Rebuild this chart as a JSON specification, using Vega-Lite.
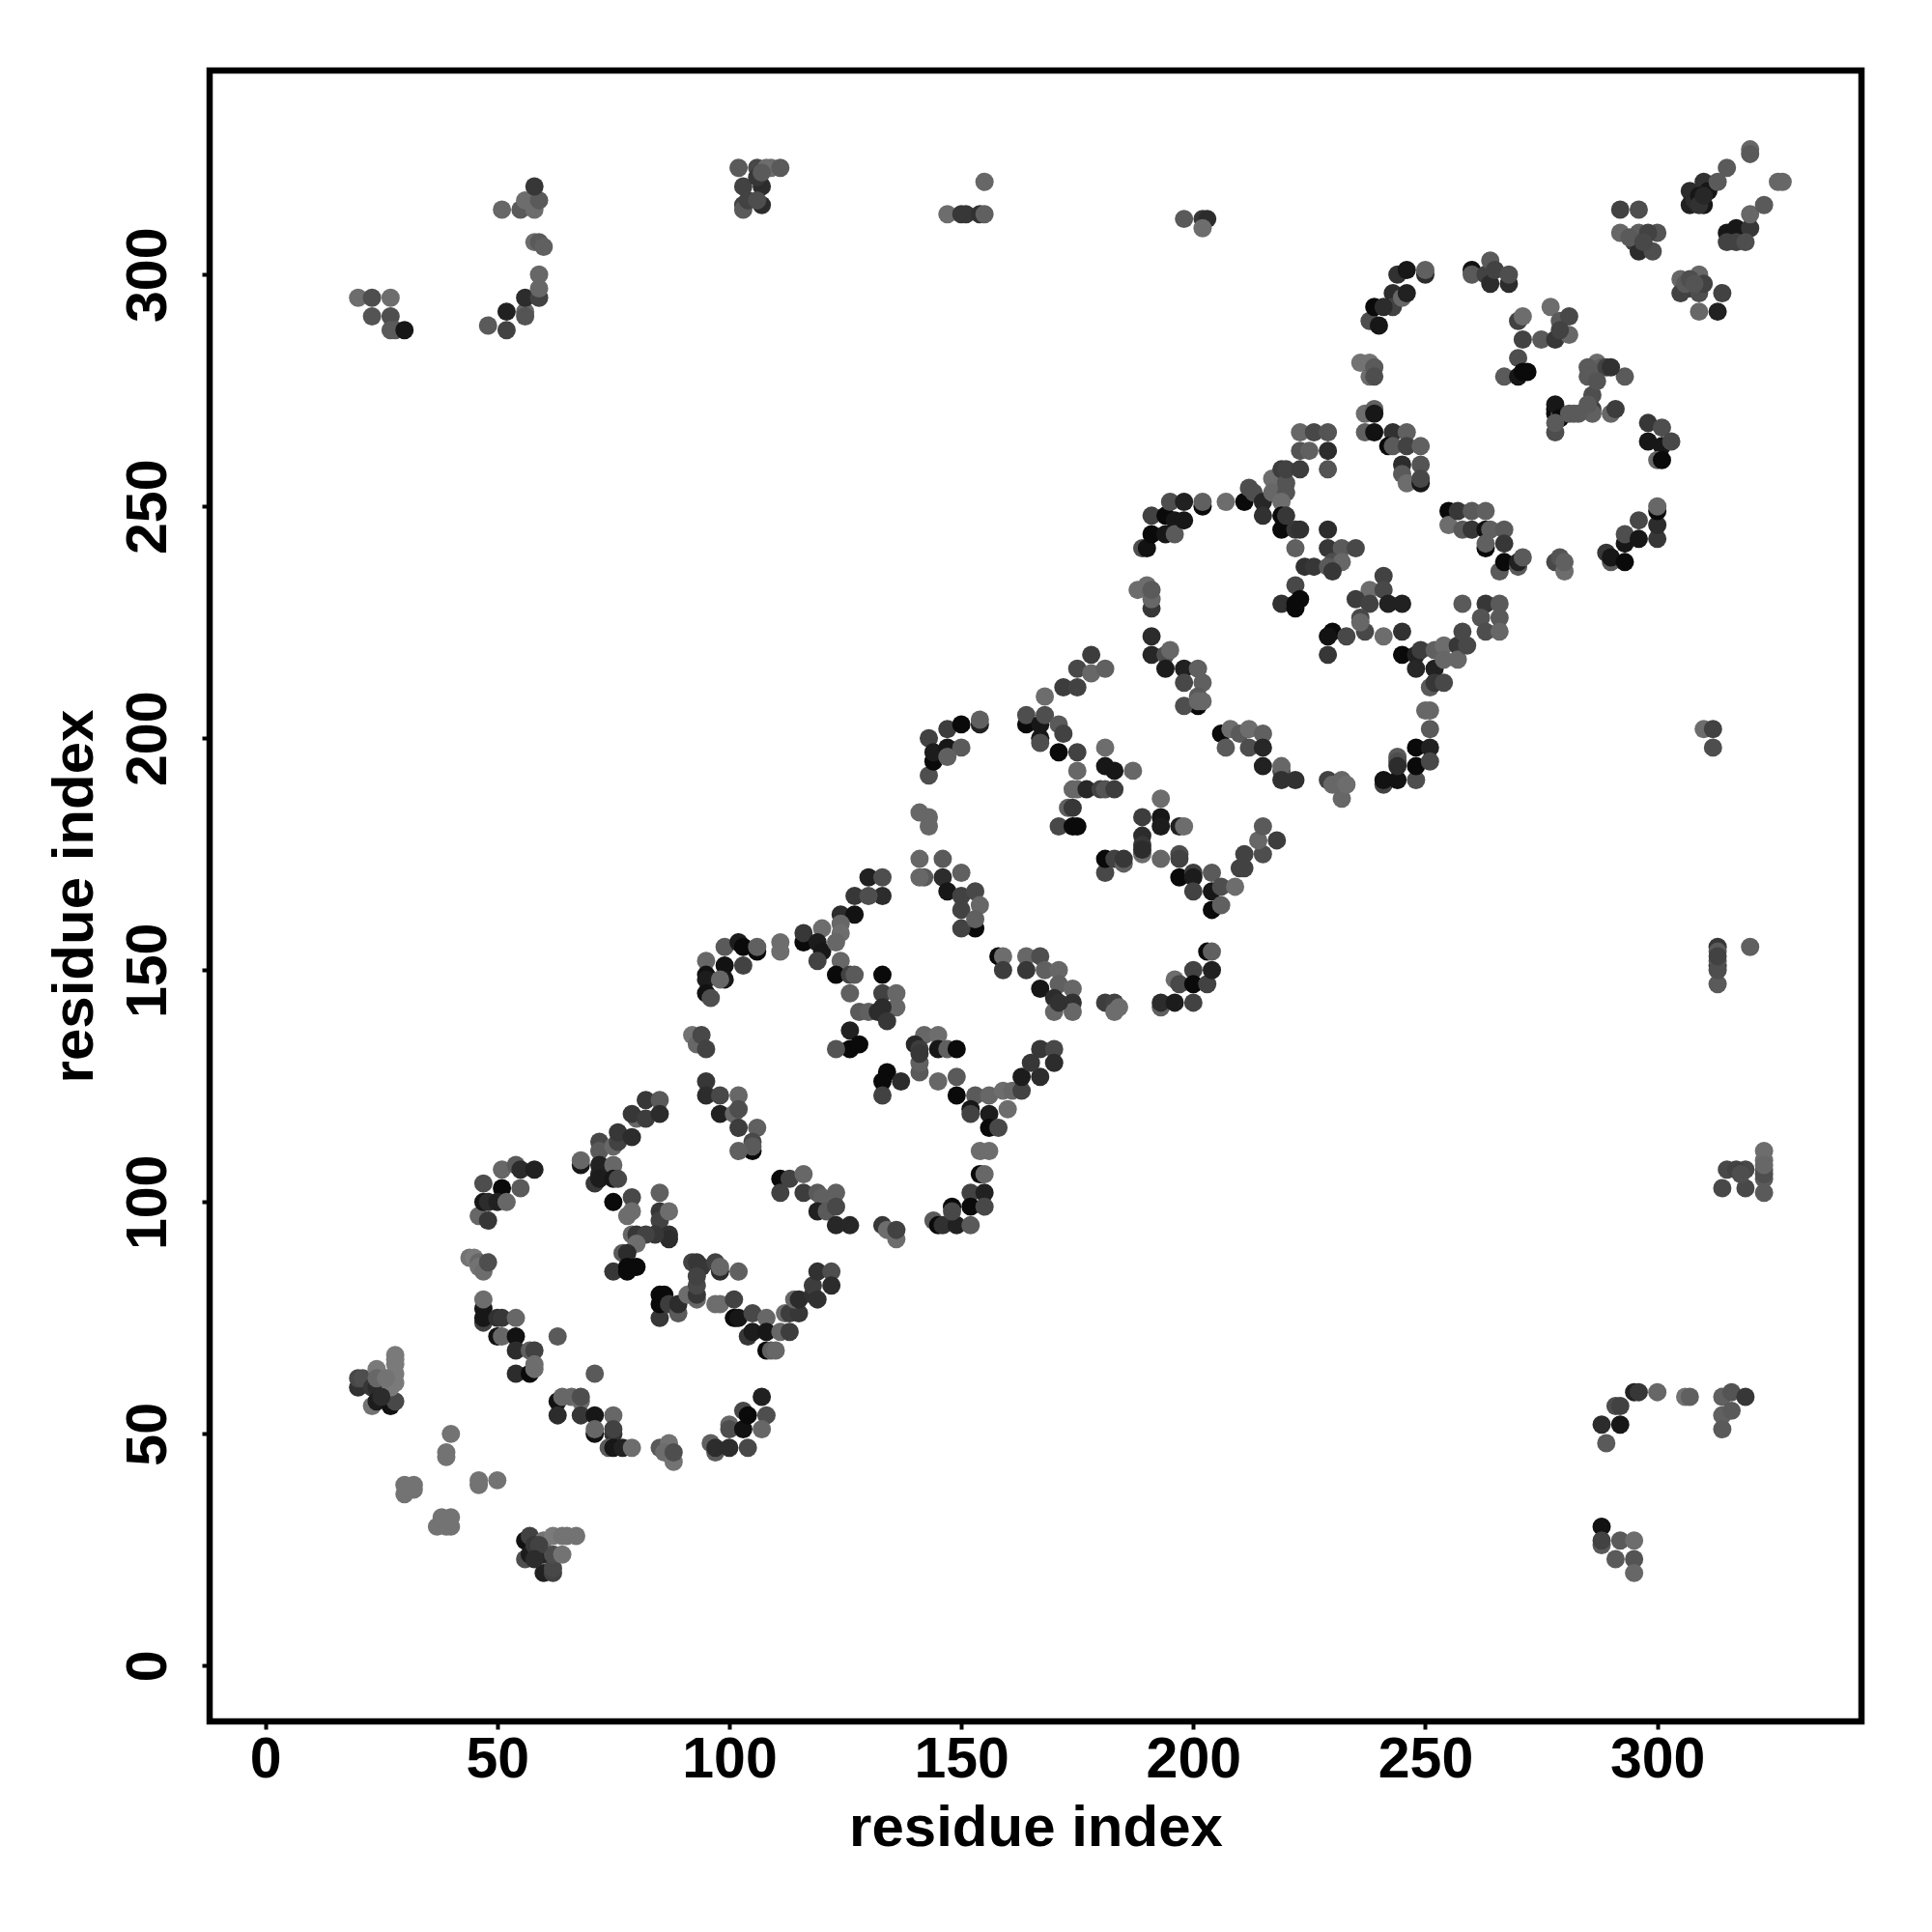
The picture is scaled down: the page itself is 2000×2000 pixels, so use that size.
{"$schema":"https://vega.github.io/schema/vega-lite/v6.json","width":1710,"height":1709,"autosize":"none","padding":{"left":217,"top":73,"right":73,"bottom":218},"background":"white","view":{"stroke":"black","strokeWidth":6.5},"data":{"values":[
{"i":20,"j":60,"s":0.35},{"i":20,"j":62,"s":0.55},{"i":21,"j":62,"s":0.6},{"i":23,"j":60,"s":0.4},{"i":24,"j":64,"s":0.95},{"i":24,"j":60,"s":0.3},{"i":23,"j":56,"s":0.9},{"i":24,"j":57,"s":0.15},{"i":27,"j":56,"s":0.05},{"i":28,"j":57,"s":0.55},{"i":27,"j":60,"s":0.95},{"i":28,"j":61,"s":0.95},{"i":28,"j":63,"s":0.95},{"i":28,"j":65,"s":0.95},{"i":28,"j":66,"s":0.95},{"i":28,"j":67,"s":0.95},
{"i":40,"j":50,"s":0.9},{"i":39,"j":46,"s":0.9},{"i":39,"j":45,"s":0.9},{"i":46,"j":39,"s":0.9},{"i":46,"j":40,"s":0.9},{"i":50,"j":40,"s":0.9},{"i":30,"j":37,"s":0.9},{"i":30,"j":39,"s":0.9},{"i":32,"j":39,"s":0.9},{"i":31,"j":38,"s":0.9},{"i":32,"j":38,"s":0.9},{"i":37,"j":30,"s":0.9},{"i":39,"j":30,"s":0.9},{"i":40,"j":30,"s":0.9},{"i":38,"j":32,"s":0.9},{"i":40,"j":32,"s":0.9},
{"i":56,"j":27,"s":0.05},{"i":57,"j":28,"s":0.5},{"i":56,"j":23,"s":0.6},{"i":57,"j":24,"s":0.15},{"i":60,"j":24,"s":0.25},{"i":60,"j":20,"s":0.2},{"i":62,"j":20,"s":0.5},{"i":62,"j":21,"s":0.55},{"i":60,"j":27,"s":0.9},{"i":62,"j":24,"s":0.6},{"i":64,"j":24,"s":0.9},{"i":62,"j":28,"s":0.95},{"i":64,"j":28,"s":0.9},{"i":65,"j":28,"s":0.9},{"i":67,"j":28,"s":0.9},
{"i":47,"j":77,"s":0.1},{"i":47,"j":79,"s":0.85},{"i":47,"j":74,"s":0.5},{"i":47,"j":75,"s":0.1},{"i":50,"j":75,"s":0.35},{"i":51,"j":75,"s":0.4},{"i":54,"j":75,"s":0.8},{"i":50,"j":71,"s":0.05},{"i":51,"j":71,"s":0.8},{"i":54,"j":71,"s":0.05},{"i":54,"j":68,"s":0.3},{"i":57,"j":68,"s":0.75},{"i":58,"j":68,"s":0.5},{"i":54,"j":63,"s":0.3},{"i":57,"j":63,"s":0},{"i":58,"j":65,"s":0.85},{"i":58,"j":64,"s":0.85},{"i":63,"j":71,"s":0.7},{"i":71,"j":63,"s":0.7},{"i":63,"j":57,"s":0.05},{"i":63,"j":54,"s":0.3},{"i":64,"j":58,"s":0.8},{"i":66,"j":58,"s":0.8},{"i":68,"j":57,"s":0.85},{"i":68,"j":58,"s":0.6},{"i":68,"j":54,"s":0.4},{"i":71,"j":54,"s":0.1},{"i":75,"j":54,"s":0.8},{"i":71,"j":50,"s":0.05},{"i":71,"j":51,"s":0.8},{"i":75,"j":50,"s":0.35},{"i":75,"j":51,"s":0.5},{"i":74,"j":47,"s":0.7},{"i":75,"j":47,"s":0.1},{"i":77,"j":47,"s":0.2},{"i":79,"j":47,"s":0.85},{"i":85,"j":47,"s":0.7},{"i":87,"j":48,"s":0.9},{"i":86,"j":46,"s":0.85},{"i":88,"j":44,"s":0.9},{"i":88,"j":46,"s":0.6},{"i":96,"j":48,"s":0.75},{"i":97,"j":46,"s":0.7},{"i":97,"j":47,"s":0.3},{"i":100,"j":47,"s":0.3},{"i":104,"j":47,"s":0.55},{"i":100,"j":52,"s":0.8},{"i":100,"j":51,"s":0.6},{"i":103,"j":51,"s":0.05},{"i":103,"j":55,"s":0.55},{"i":104,"j":54,"s":0},{"i":107,"j":58,"s":0.2},{"i":108,"j":54,"s":0.6},{"i":107,"j":51,"s":0.8},
{"i":46,"j":97,"s":0.8},{"i":48,"j":96,"s":0.4},{"i":47,"j":104,"s":0.6},{"i":47,"j":100,"s":0.1},{"i":48,"j":100,"s":0.3},{"i":51,"j":103,"s":0},{"i":51,"j":107,"s":0.8},{"i":54,"j":108,"s":0.7},{"i":55,"j":107,"s":0.3},{"i":58,"j":107,"s":0.2},{"i":55,"j":103,"s":0.7},{"i":50,"j":100,"s":0.2},{"i":52,"j":100,"s":0.8},{"i":44,"j":88,"s":0.9},{"i":45,"j":88,"s":0.95},{"i":46,"j":87,"s":0.8},{"i":46,"j":86,"s":0.9},{"i":47,"j":85,"s":0.85},{"i":48,"j":87,"s":0.6},
{"i":68,"j":108,"s":0.1},{"i":68,"j":109,"s":0.8},{"i":72,"j":113,"s":0.55},{"i":72,"j":111,"s":0.7},{"i":72,"j":108,"s":0.2},{"i":72,"j":106,"s":0.2},{"i":71,"j":104,"s":0.4},{"i":72,"j":105,"s":0.15},{"i":75,"j":108,"s":0.8},{"i":75,"j":105,"s":0.1},{"i":76,"j":105,"s":0.55},{"i":75,"j":112,"s":0.8},{"i":76,"j":113,"s":0.5},{"i":76,"j":115,"s":0.4},{"i":79,"j":114,"s":0.3},{"i":80,"j":118,"s":0.8},{"i":79,"j":119,"s":0.4},{"i":82,"j":118,"s":0.45},{"i":82,"j":122,"s":0.4},{"i":85,"j":122,"s":0.7},{"i":85,"j":119,"s":0.3},
{"i":75,"j":100,"s":0},{"i":79,"j":101,"s":0.55},{"i":78,"j":97,"s":0.85},{"i":79,"j":98,"s":0.85},{"i":85,"j":102,"s":0.75},{"i":85,"j":98,"s":0.4},{"i":85,"j":96,"s":0.5},{"i":87,"j":98,"s":0.85},{"i":87,"j":93,"s":0.35},{"i":87,"j":92,"s":0.3},{"i":84,"j":93,"s":0.4},{"i":79,"j":93,"s":0.8},{"i":80,"j":93,"s":0.4},{"i":82,"j":93,"s":0.5},{"i":80,"j":91,"s":0.85},{"i":77,"j":89,"s":0.7},{"i":78,"j":89,"s":0.3},{"i":75,"j":85,"s":0.4},{"i":78,"j":86,"s":0},{"i":80,"j":86,"s":0},{"i":78,"j":85,"s":0},
{"i":85,"j":75,"s":0.4},{"i":85,"j":80,"s":0},{"i":85,"j":78,"s":0},{"i":86,"j":80,"s":0},{"i":87,"j":78,"s":0.45},{"i":89,"j":76,"s":0.7},{"i":89,"j":78,"s":0.3},{"i":91,"j":80,"s":0.85},{"i":93,"j":79,"s":0.8},{"i":93,"j":80,"s":0.4},{"i":93,"j":82,"s":0.55},{"i":92,"j":87,"s":0.5},{"i":93,"j":87,"s":0.4},{"i":94,"j":86,"s":0.4},{"i":93,"j":84,"s":0.5},{"i":97,"j":87,"s":0.5},{"i":98,"j":85,"s":0.3},{"i":98,"j":86,"s":0.8},{"i":102,"j":85,"s":0.75},{"i":97,"j":78,"s":0.85},{"i":98,"j":78,"s":0.85},{"i":101,"j":75,"s":0},{"i":101,"j":79,"s":0.5},{"i":102,"j":75,"s":0.1},{"i":105,"j":76,"s":0.55},{"i":104,"j":71,"s":0.4},{"i":105,"j":72,"s":0.15},{"i":108,"j":75,"s":0.8},{"i":108,"j":72,"s":0.1},{"i":111,"j":72,"s":0.8},{"i":113,"j":72,"s":0.45},{"i":108,"j":68,"s":0},{"i":109,"j":68,"s":0.75},{"i":110,"j":68,"s":0.8},{"i":112,"j":76,"s":0.85},{"i":113,"j":76,"s":0.45},{"i":115,"j":76,"s":0.4},{"i":114,"j":79,"s":0.8},{"i":115,"j":79,"s":0.3},{"i":118,"j":80,"s":0.35},{"i":118,"j":82,"s":0.45},{"i":119,"j":79,"s":0.35},{"i":119,"j":85,"s":0.35},{"i":122,"j":85,"s":0.6},{"i":122,"j":82,"s":0.3},
{"i":95,"j":152,"s":0.8},{"i":95,"j":149,"s":0.05},{"i":95,"j":148,"s":0.15},{"i":99,"j":155,"s":0.7},{"i":102,"j":156,"s":0.15},{"i":103,"j":155,"s":0},{"i":106,"j":154,"s":0},{"i":106,"j":155,"s":0.75},{"i":99,"j":151,"s":0.05},{"i":99,"j":148,"s":0.1},{"i":98,"j":148,"s":0.8},{"i":103,"j":151,"s":0.5},{"i":95,"j":145,"s":0.05},{"i":96,"j":144,"s":0.6},{"i":111,"j":156,"s":0.85},{"i":111,"j":154,"s":0.85},{"i":92,"j":136,"s":0.9},{"i":93,"j":134,"s":0.8},{"i":94,"j":136,"s":0.55},{"i":95,"j":133,"s":0.5},{"i":95,"j":126,"s":0.4},{"i":95,"j":123,"s":0.3},{"i":98,"j":123,"s":0.55},{"i":102,"j":123,"s":0.8},{"i":98,"j":119,"s":0.2},{"i":101,"j":119,"s":0.8},{"i":102,"j":120,"s":0.6},{"i":102,"j":116,"s":0.45},{"i":106,"j":116,"s":0.75},{"i":105,"j":113,"s":0.55},{"i":105,"j":111,"s":0},{"i":105,"j":112,"s":0.7},{"i":102,"j":111,"s":0.75},
{"i":111,"j":105,"s":0},{"i":113,"j":105,"s":0.5},{"i":116,"j":106,"s":0.8},{"i":111,"j":102,"s":0.5},{"i":116,"j":102,"s":0.45},{"i":119,"j":102,"s":0.7},{"i":120,"j":101,"s":0.75},{"i":123,"j":102,"s":0.75},{"i":119,"j":98,"s":0.2},{"i":121,"j":98,"s":0.7},{"i":123,"j":99,"s":0.55},{"i":123,"j":95,"s":0.25},{"i":126,"j":95,"s":0.25},{"i":133,"j":95,"s":0.4},{"i":134,"j":94,"s":0.85},{"i":136,"j":92,"s":0.85},{"i":136,"j":94,"s":0.5},{"i":144,"j":96,"s":0.7},{"i":145,"j":95,"s":0},{"i":146,"j":95,"s":0.35},{"i":149,"j":95,"s":0.2},{"i":152,"j":95,"s":0.7},{"i":148,"j":99,"s":0},{"i":148,"j":98,"s":0.55},{"i":152,"j":102,"s":0.5},{"i":152,"j":99,"s":0},{"i":155,"j":102,"s":0.2},{"i":155,"j":99,"s":0.55},{"i":154,"j":106,"s":0},{"i":155,"j":106,"s":0.8},{"i":154,"j":111,"s":0.85},{"i":156,"j":111,"s":0.85},
{"i":116,"j":156,"s":0},{"i":116,"j":158,"s":0.4},{"i":120,"j":159,"s":0.85},{"i":119,"j":156,"s":0.15},{"i":120,"j":154,"s":0.1},{"i":119,"j":152,"s":0.5},{"i":124,"j":162,"s":0.3},{"i":127,"j":162,"s":0.05},{"i":124,"j":160,"s":0.8},{"i":124,"j":158,"s":0.85},{"i":123,"j":156,"s":0.8},{"i":124,"j":152,"s":0.8},{"i":123,"j":149,"s":0},{"i":126,"j":149,"s":0.5},{"i":127,"j":149,"s":0.7},{"i":126,"j":145,"s":0.75},{"i":127,"j":166,"s":0.4},{"i":130,"j":170,"s":0.2},{"i":133,"j":170,"s":0.6},{"i":133,"j":166,"s":0.3},{"i":130,"j":166,"s":0.6},{"i":128,"j":141,"s":0.7},{"i":130,"j":141,"s":0.75},{"i":133,"j":149,"s":0},{"i":133,"j":145,"s":0.5},{"i":136,"j":145,"s":0.8},{"i":136,"j":142,"s":0.8},{"i":133,"j":142,"s":0.3},{"i":132,"j":141,"s":0.3},{"i":134,"j":139,"s":0.4},{"i":126,"j":137,"s":0.2},{"i":126,"j":133,"s":0},{"i":128,"j":134,"s":0},{"i":123,"j":133,"s":0.65},
{"i":141,"j":128,"s":0.7},{"i":141,"j":130,"s":0.75},{"i":142,"j":136,"s":0.8},{"i":145,"j":136,"s":0.85},{"i":140,"j":134,"s":0.25},{"i":141,"j":133,"s":0.45},{"i":141,"j":132,"s":0.4},{"i":145,"j":133,"s":0.1},{"i":147,"j":133,"s":0.75},{"i":149,"j":133,"s":0},{"i":134,"j":128,"s":0},{"i":133,"j":126,"s":0},{"i":137,"j":126,"s":0.3},{"i":133,"j":123,"s":0.5},{"i":145,"j":126,"s":0.8},{"i":149,"j":127,"s":0.7},{"i":149,"j":123,"s":0},{"i":153,"j":123,"s":0.7},{"i":156,"j":123,"s":0.8},{"i":152,"j":120,"s":0.1},{"i":156,"j":119,"s":0.15},{"i":152,"j":119,"s":0.5},{"i":156,"j":116,"s":0},{"i":158,"j":116,"s":0.55},{"i":160,"j":120,"s":0.85},{"i":159,"j":124,"s":0.85},{"i":161,"j":124,"s":0.8},{"i":163,"j":124,"s":0.5},{"i":163,"j":127,"s":0.15},{"i":167,"j":127,"s":0.3},{"i":165,"j":130,"s":0.4},{"i":167,"j":133,"s":0.4},{"i":170,"j":133,"s":0.55},{"i":170,"j":130,"s":0.3},
{"i":158,"j":153,"s":0},{"i":159,"j":153,"s":0.85},{"i":159,"j":150,"s":0.45},{"i":164,"j":153,"s":0.8},{"i":164,"j":150,"s":0.4},{"i":167,"j":153,"s":0.6},{"i":168,"j":150,"s":0.75},{"i":167,"j":146,"s":0.1},{"i":171,"j":150,"s":0.8},{"i":171,"j":147,"s":0.75},{"i":170,"j":144,"s":0.3},{"i":174,"j":146,"s":0.8},{"i":174,"j":143,"s":0.35},{"i":170,"j":141,"s":0.8},{"i":174,"j":141,"s":0.8},{"i":171,"j":143,"s":0.35},{"i":181,"j":143,"s":0.45},{"i":183,"j":143,"s":0.5},{"i":183,"j":141,"s":0.85},{"i":184,"j":142,"s":0.85},{"i":193,"j":142,"s":0.75},{"i":193,"j":143,"s":0.3},{"i":196,"j":143,"s":0.15},{"i":200,"j":143,"s":0.5},{"i":196,"j":148,"s":0.85},{"i":197,"j":147,"s":0.55},{"i":200,"j":150,"s":0.5},{"i":200,"j":147,"s":0},{"i":203,"j":147,"s":0.5},{"i":204,"j":150,"s":0.2},{"i":203,"j":154,"s":0},{"i":204,"j":154,"s":0.75},
{"i":141,"j":174,"s":0.8},{"i":142,"j":170,"s":0.7},{"i":141,"j":170,"s":0.8},{"i":146,"j":174,"s":0.7},{"i":146,"j":170,"s":0.3},{"i":147,"j":167,"s":0.1},{"i":150,"j":171,"s":0.75},{"i":150,"j":166,"s":0.5},{"i":153,"j":167,"s":0.55},{"i":150,"j":163,"s":0.5},{"i":154,"j":164,"s":0.8},{"i":153,"j":159,"s":0},{"i":150,"j":159,"s":0.5},{"i":153,"j":161,"s":0.75},{"i":141,"j":184,"s":0.8},{"i":143,"j":183,"s":0.8},{"i":143,"j":181,"s":0.8},{"i":143,"j":192,"s":0.6},{"i":144,"j":195,"s":0},{"i":143,"j":200,"s":0.5},{"i":144,"j":197,"s":0.15},{"i":147,"j":198,"s":0.1},{"i":147,"j":202,"s":0.45},{"i":150,"j":203,"s":0},{"i":150,"j":198,"s":0.7},{"i":154,"j":203,"s":0.2},{"i":154,"j":204,"s":0.75},{"i":147,"j":196,"s":0.75},
{"i":164,"j":203,"s":0},{"i":164,"j":205,"s":0.6},{"i":168,"j":209,"s":0.85},{"i":167,"j":203,"s":0.1},{"i":168,"j":205,"s":0.6},{"i":171,"j":203,"s":0.7},{"i":167,"j":200,"s":0.1},{"i":172,"j":201,"s":0.5},{"i":167,"j":199,"s":0.6},{"i":171,"j":197,"s":0},{"i":175,"j":197,"s":0.5},{"i":172,"j":211,"s":0.45},{"i":175,"j":211,"s":0.5},{"i":175,"j":215,"s":0.55},{"i":178,"j":218,"s":0.45},{"i":178,"j":214,"s":0.8},{"i":181,"j":215,"s":0.75},{"i":181,"j":198,"s":0.85},{"i":181,"j":194,"s":0.1},{"i":183,"j":193,"s":0.1},{"i":187,"j":193,"s":0.8},{"i":175,"j":193,"s":0.8},{"i":174,"j":189,"s":0.8},{"i":175,"j":189,"s":0.8},{"i":177,"j":189,"s":0.25},{"i":180,"j":189,"s":0.5},{"i":181,"j":189,"s":0.65},{"i":183,"j":189,"s":0.45},{"i":193,"j":187,"s":0.85},{"i":173,"j":185,"s":0.75},{"i":174,"j":185,"s":0.4},{"i":171,"j":181,"s":0.55},{"i":174,"j":181,"s":0},{"i":175,"j":181,"s":0},
{"i":189,"j":183,"s":0.45},{"i":193,"j":183,"s":0.1},{"i":189,"j":179,"s":0.3},{"i":189,"j":175,"s":0.85},{"i":189,"j":177,"s":0.4},{"i":189,"j":176,"s":0.3},{"i":193,"j":181,"s":0.15},{"i":197,"j":181,"s":0.2},{"i":198,"j":181,"s":0.85},{"i":181,"j":171,"s":0.55},{"i":181,"j":174,"s":0},{"i":183,"j":174,"s":0.5},{"i":185,"j":173,"s":0.75},{"i":185,"j":174,"s":0.4},{"i":193,"j":174,"s":0.8},{"i":197,"j":175,"s":0.6},{"i":197,"j":174,"s":0.5},{"i":197,"j":170,"s":0},{"i":200,"j":171,"s":0.45},{"i":200,"j":170,"s":0.15},{"i":204,"j":171,"s":0.7},{"i":204,"j":167,"s":0.1},{"i":200,"j":167,"s":0.5},{"i":206,"j":168,"s":0.6},{"i":209,"j":168,"s":0.85},{"i":204,"j":163,"s":0},{"i":206,"j":164,"s":0.75},{"i":210,"j":172,"s":0.5},{"i":211,"j":175,"s":0.5},{"i":215,"j":175,"s":0.6},{"i":211,"j":172,"s":0.5},{"i":214,"j":178,"s":0.8},{"i":218,"j":178,"s":0.45},{"i":215,"j":181,"s":0.7},
{"i":206,"j":201,"s":0},{"i":207,"j":198,"s":0.7},{"i":208,"j":202,"s":0.85},{"i":210,"j":201,"s":0.7},{"i":212,"j":202,"s":0.85},{"i":215,"j":201,"s":0.75},{"i":212,"j":198,"s":0.6},{"i":215,"j":198,"s":0.25},{"i":215,"j":194,"s":0.2},{"i":219,"j":193,"s":0.6},{"i":219,"j":194,"s":0.8},{"i":219,"j":191,"s":0.35},{"i":222,"j":191,"s":0.35},{"i":229,"j":191,"s":0.5},{"i":230,"j":190,"s":0.8},{"i":232,"j":187,"s":0.8},{"i":232,"j":191,"s":0.8},{"i":233,"j":190,"s":0.85},{"i":241,"j":190,"s":0.5},{"i":241,"j":191,"s":0.05},{"i":244,"j":191,"s":0.05},{"i":248,"j":191,"s":0.6},{"i":244,"j":196,"s":0.7},{"i":244,"j":195,"s":0.6},{"i":244,"j":194,"s":0.3},{"i":248,"j":198,"s":0},{"i":248,"j":194,"s":0},{"i":251,"j":198,"s":0.2},{"i":251,"j":202,"s":0.7},{"i":251,"j":195,"s":0.55},{"i":251,"j":206,"s":0.8},{"i":250,"j":206,"s":0.8},
{"i":191,"j":222,"s":0.3},{"i":191,"j":218,"s":0.25},{"i":194,"j":218,"s":0.6},{"i":195,"j":219,"s":0.8},{"i":194,"j":215,"s":0.15},{"i":198,"j":215,"s":0.2},{"i":201,"j":215,"s":0.75},{"i":198,"j":212,"s":0.55},{"i":202,"j":212,"s":0.75},{"i":201,"j":207,"s":0},{"i":198,"j":207,"s":0.6},{"i":201,"j":209,"s":0.7},{"i":201,"j":208,"s":0.8},{"i":202,"j":208,"s":0.8},{"i":188,"j":232,"s":0.85},{"i":190,"j":233,"s":0.85},{"i":191,"j":228,"s":0.4},{"i":191,"j":230,"s":0.8},{"i":191,"j":232,"s":0.7},
{"i":189,"j":241,"s":0.6},{"i":190,"j":241,"s":0.05},{"i":191,"j":248,"s":0.5},{"i":191,"j":244,"s":0},{"i":194,"j":244,"s":0.1},{"i":194,"j":248,"s":0},{"i":195,"j":251,"s":0.6},{"i":196,"j":247,"s":0.1},{"i":196,"j":244,"s":0.7},{"i":198,"j":251,"s":0.2},{"i":198,"j":247,"s":0.1},{"i":202,"j":250,"s":0},{"i":202,"j":251,"s":0.75},{"i":207,"j":251,"s":0.85},{"i":211,"j":251,"s":0},{"i":212,"j":254,"s":0.6},{"i":213,"j":253,"s":0.6},{"i":215,"j":251,"s":0.25},{"i":215,"j":248,"s":0.35},{"i":217,"j":256,"s":0.85},{"i":217,"j":253,"s":0.8},{"i":219,"j":258,"s":0.45},{"i":220,"j":255,"s":0.65},{"i":220,"j":253,"s":0.65},{"i":219,"j":251,"s":0.85},{"i":219,"j":248,"s":0},{"i":219,"j":245,"s":0},{"i":220,"j":248,"s":0.4},{"i":222,"j":245,"s":0.4},{"i":222,"j":241,"s":0.75},{"i":223,"j":245,"s":0.35},{"i":220,"j":258,"s":0.5},{"i":223,"j":258,"s":0.45},{"i":223,"j":262,"s":0.65},{"i":225,"j":262,"s":0.75},{"i":229,"j":262,"s":0.3},{"i":223,"j":266,"s":0.8},{"i":226,"j":266,"s":0.55},{"i":229,"j":266,"s":0.65},{"i":229,"j":258,"s":0.65},{"i":229,"j":245,"s":0.3},{"i":229,"j":241,"s":0.4},{"i":232,"j":241,"s":0.7},{"i":235,"j":241,"s":0.55},{"i":230,"j":238,"s":0.6},{"i":232,"j":238,"s":0.8},{"i":224,"j":237,"s":0.35},{"i":226,"j":237,"s":0.4},{"i":229,"j":237,"s":0.7},{"i":230,"j":236,"s":0.4},{"i":222,"j":233,"s":0.55},{"i":219,"j":229,"s":0.35},{"i":222,"j":229,"s":0},{"i":223,"j":230,"s":0},{"i":222,"j":228,"s":0},
{"i":241,"j":235,"s":0.5},{"i":238,"j":232,"s":0.85},{"i":241,"j":232,"s":0.55},{"i":235,"j":230,"s":0.45},{"i":238,"j":229,"s":0.5},{"i":242,"j":229,"s":0.2},{"i":245,"j":229,"s":0.2},{"i":236,"j":226,"s":0.55},{"i":237,"j":223,"s":0.55},{"i":236,"j":225,"s":0.8},{"i":230,"j":223,"s":0},{"i":229,"j":222,"s":0.05},{"i":233,"j":222,"s":0.55},{"i":229,"j":218,"s":0.4},{"i":241,"j":222,"s":0.85},{"i":245,"j":223,"s":0.35},{"i":245,"j":218,"s":0},{"i":248,"j":218,"s":0.2},{"i":249,"j":219,"s":0.45},{"i":252,"j":219,"s":0.75},{"i":254,"j":220,"s":0.85},{"i":248,"j":215,"s":0.25},{"i":252,"j":215,"s":0.2},{"i":257,"j":220,"s":0.4},{"i":254,"j":217,"s":0.8},{"i":257,"j":217,"s":0.8},{"i":258,"j":223,"s":0.55},{"i":259,"j":220,"s":0.55},{"i":258,"j":229,"s":0.7},{"i":263,"j":229,"s":0.4},{"i":266,"j":229,"s":0.7},{"i":262,"j":226,"s":0.65},{"i":266,"j":226,"s":0.7},{"i":263,"j":223,"s":0.6},{"i":266,"j":223,"s":0.8},{"i":251,"j":211,"s":0.7},{"i":252,"j":212,"s":0.4},{"i":254,"j":212,"s":0.55},
{"i":237,"j":270,"s":0.85},{"i":239,"j":271,"s":0.75},{"i":237,"j":266,"s":0.75},{"i":239,"j":270,"s":0.1},{"i":239,"j":266,"s":0.05},{"i":243,"j":266,"s":0.35},{"i":246,"j":266,"s":0.75},{"i":242,"j":263,"s":0},{"i":243,"j":263,"s":0.7},{"i":246,"j":263,"s":0.5},{"i":249,"j":263,"s":0.75},{"i":245,"j":259,"s":0.3},{"i":249,"j":259,"s":0.65},{"i":245,"j":257,"s":0.7},{"i":246,"j":255,"s":0.85},{"i":249,"j":255,"s":0.1},{"i":249,"j":256,"s":0.55},
{"i":255,"j":249,"s":0},{"i":255,"j":246,"s":0.85},{"i":257,"j":249,"s":0.4},{"i":258,"j":245,"s":0.7},{"i":260,"j":249,"s":0.7},{"i":263,"j":249,"s":0.75},{"i":260,"j":245,"s":0.4},{"i":263,"j":245,"s":0.05},{"i":264,"j":245,"s":0.75},{"i":267,"j":245,"s":0.7},{"i":263,"j":241,"s":0},{"i":263,"j":242,"s":0.75},{"i":267,"j":242,"s":0.4},{"i":266,"j":236,"s":0.7},{"i":267,"j":238,"s":0},{"i":270,"j":237,"s":0.7},{"i":270,"j":238,"s":0.2},{"i":271,"j":239,"s":0.7},{"i":278,"j":238,"s":0.55},{"i":279,"j":239,"s":0.65},{"i":280,"j":236,"s":0.85},{"i":280,"j":238,"s":0.75},{"i":289,"j":240,"s":0.4},{"i":290,"j":238,"s":0.7},{"i":290,"j":239,"s":0.1},{"i":293,"j":238,"s":0},{"i":293,"j":242,"s":0.1},{"i":293,"j":244,"s":0.6},{"i":296,"j":243,"s":0.1},{"i":296,"j":247,"s":0.55},{"i":300,"j":243,"s":0.4},{"i":300,"j":246,"s":0.3},{"i":300,"j":249,"s":0},{"i":300,"j":250,"s":0.8},
{"i":298,"j":268,"s":0.4},{"i":301,"j":267,"s":0.6},{"i":298,"j":264,"s":0.1},{"i":301,"j":263,"s":0.1},{"i":303,"j":264,"s":0.55},{"i":300,"j":260,"s":0.8},{"i":301,"j":260,"s":0},{"i":278,"j":271,"s":0},{"i":278,"j":270,"s":0},{"i":278,"j":266,"s":0.6},{"i":279,"j":270,"s":0.75},{"i":282,"j":270,"s":0.75},{"i":286,"j":274,"s":0.6},{"i":286,"j":271,"s":0.5},{"i":286,"j":270,"s":0.75},{"i":290,"j":270,"s":0.8},{"i":291,"j":271,"s":0.45},
{"i":238,"j":290,"s":0.6},{"i":239,"j":293,"s":0},{"i":240,"j":289,"s":0.1},{"i":243,"j":296,"s":0.3},{"i":243,"j":293,"s":0.5},{"i":244,"j":300,"s":0.35},{"i":245,"j":295,"s":0.8},{"i":246,"j":296,"s":0.2},{"i":246,"j":301,"s":0.1},{"i":250,"j":300,"s":0.3},{"i":250,"j":301,"s":0.75},{"i":236,"j":281,"s":0.9},{"i":238,"j":281,"s":0.9},{"i":238,"j":278,"s":0.85},{"i":239,"j":280,"s":0.7},{"i":239,"j":278,"s":0.6},
{"i":260,"j":301,"s":0.05},{"i":260,"j":300,"s":0.7},{"i":263,"j":300,"s":0.5},{"i":264,"j":303,"s":0.7},{"i":264,"j":298,"s":0.3},{"i":265,"j":301,"s":0.5},{"i":268,"j":298,"s":0.3},{"i":268,"j":300,"s":0.6},{"i":270,"j":290,"s":0.5},{"i":271,"j":291,"s":0.85},{"i":271,"j":286,"s":0.5},{"i":275,"j":286,"s":0.7},{"i":277,"j":293,"s":0.85},{"i":279,"j":290,"s":0.7},{"i":278,"j":286,"s":0.4},{"i":281,"j":291,"s":0.55},{"i":281,"j":287,"s":0.8},{"i":279,"j":288,"s":0.5},{"i":270,"j":282,"s":0.6},{"i":267,"j":278,"s":0.7},{"i":270,"j":278,"s":0.1},{"i":272,"j":279,"s":0},{"i":271,"j":279,"s":0},{"i":278,"j":272,"s":0.1},{"i":279,"j":269,"s":0},{"i":278,"j":268,"s":0.7},{"i":281,"j":270,"s":0.7},{"i":283,"j":270,"s":0.7},{"i":285,"j":272,"s":0.7},{"i":287,"j":281,"s":0.85},{"i":288,"j":280,"s":0.75},{"i":285,"j":280,"s":0.7},{"i":289,"j":280,"s":0.5},{"i":285,"j":278,"s":0.7},{"i":293,"j":278,"s":0.7},{"i":290,"j":280,"s":0.35},{"i":287,"j":277,"s":0.65},
{"i":292,"j":314,"s":0.5},{"i":296,"j":314,"s":0.6},{"i":292,"j":309,"s":0.8},{"i":296,"j":309,"s":0.75},{"i":300,"j":309,"s":0.65},{"i":295,"j":307,"s":0.5},{"i":296,"j":305,"s":0.3},{"i":299,"j":305,"s":0.6},{"i":298,"j":309,"s":0.5},{"i":305,"j":299,"s":0.8},{"i":309,"j":300,"s":0.8},{"i":307,"j":297,"s":0.4},{"i":309,"j":296,"s":0.6},{"i":305,"j":296,"s":0.5},{"i":309,"j":292,"s":0.8},{"i":313,"j":292,"s":0.2},{"i":314,"j":296,"s":0.5},{"i":310,"j":298,"s":0.5},{"i":307,"j":318,"s":0.3},{"i":310,"j":320,"s":0.35},{"i":307,"j":315,"s":0.2},{"i":310,"j":315,"s":0.1},{"i":311,"j":318,"s":0.1},{"i":313,"j":320,"s":0.7},{"i":315,"j":323,"s":0.7},{"i":320,"j":327,"s":0.8},{"i":320,"j":326,"s":0.7},{"i":315,"j":309,"s":0.1},{"i":317,"j":310,"s":0.1},{"i":320,"j":310,"s":0.4},{"i":317,"j":307,"s":0.5},{"i":315,"j":307,"s":0.5},{"i":319,"j":307,"s":0.6},{"i":320,"j":313,"s":0.8},{"i":323,"j":315,"s":0.7},{"i":326,"j":320,"s":0.8},{"i":327,"j":320,"s":0.8},
{"i":20,"j":295,"s":0.85},{"i":23,"j":295,"s":0.6},{"i":27,"j":295,"s":0.85},{"i":23,"j":291,"s":0.65},{"i":27,"j":291,"s":0.6},{"i":27,"j":288,"s":0.7},{"i":28,"j":288,"s":0.7},{"i":30,"j":288,"s":0.1},{"i":48,"j":289,"s":0.7},{"i":52,"j":288,"s":0.5},{"i":52,"j":292,"s":0.2},{"i":56,"j":292,"s":0.8},{"i":56,"j":295,"s":0.3},{"i":59,"j":295,"s":0.5},{"i":56,"j":291,"s":0.65},{"i":59,"j":297,"s":0.8},{"i":59,"j":300,"s":0.8},{"i":58,"j":307,"s":0.85},{"i":59,"j":307,"s":0.7},{"i":51,"j":314,"s":0.8},{"i":55,"j":314,"s":0.7},{"i":58,"j":314,"s":0.85},{"i":56,"j":316,"s":0.85},{"i":59,"j":316,"s":0.7},{"i":58,"j":319,"s":0.4},
{"i":102,"j":323,"s":0.7},{"i":106,"j":323,"s":0.55},{"i":108,"j":323,"s":0.85},{"i":109,"j":323,"s":0.85},{"i":111,"j":323,"s":0.7},{"i":103,"j":319,"s":0.5},{"i":107,"j":319,"s":0.3},{"i":103,"j":315,"s":0.5},{"i":107,"j":315,"s":0.3},{"i":103,"j":314,"s":0.7},{"i":147,"j":313,"s":0.85},{"i":150,"j":313,"s":0.4},{"i":151,"j":313,"s":0.4},{"i":154,"j":313,"s":0.35},{"i":155,"j":313,"s":0.75},{"i":155,"j":320,"s":0.8},{"i":198,"j":312,"s":0.7},{"i":202,"j":312,"s":0.4},{"i":203,"j":312,"s":0.3},{"i":202,"j":310,"s":0.85},
{"i":310,"j":202,"s":0.85},{"i":312,"j":202,"s":0.5},{"i":312,"j":198,"s":0.6},{"i":313,"j":155,"s":0.4},{"i":313,"j":154,"s":0.7},{"i":313,"j":151,"s":0.3},{"i":313,"j":152,"s":0.7},{"i":313,"j":147,"s":0.7},{"i":320,"j":155,"s":0.75},{"i":314,"j":103,"s":0.55},{"i":315,"j":107,"s":0.55},{"i":319,"j":107,"s":0.55},{"i":319,"j":103,"s":0.55},{"i":323,"j":111,"s":0.85},{"i":323,"j":107,"s":0.7},{"i":323,"j":102,"s":0.7},{"i":323,"j":109,"s":0.85},
{"i":288,"j":52,"s":0.3},{"i":292,"j":52,"s":0.1},{"i":291,"j":56,"s":0.6},{"i":292,"j":56,"s":0.5},{"i":289,"j":48,"s":0.7},{"i":295,"j":59,"s":0.2},{"i":296,"j":59,"s":0.4},{"i":300,"j":59,"s":0.8},{"i":306,"j":58,"s":0.9},{"i":307,"j":58,"s":0.75},{"i":314,"j":58,"s":0.75},{"i":316,"j":59,"s":0.65},{"i":319,"j":58,"s":0.4},{"i":314,"j":54,"s":0.75},{"i":316,"j":55,"s":0.7},{"i":314,"j":51,"s":0.7},{"i":288,"j":30,"s":0.05},{"i":288,"j":26,"s":0.7},{"i":288,"j":27,"s":0.5},{"i":292,"j":27,"s":0.7},{"i":291,"j":23,"s":0.7},{"i":295,"j":27,"s":0.85},{"i":295,"j":23,"s":0.65},{"i":295,"j":20,"s":0.8},
{"i":308,"j":316,"s":0.3},{"i":309,"j":317,"s":0.1},{"i":309,"j":315,"s":0.35},{"i":310,"j":317,"s":0.25},{"i":306,"j":298,"s":0.7},{"i":307,"j":299,"s":0.6},{"i":308,"j":298,"s":0.65},{"i":60,"j":306,"s":0.75},{"i":323,"j":105,"s":0.7},{"i":323,"j":106,"s":0.6},{"i":323,"j":108,"s":0.8},{"i":313,"j":150,"s":0.6},{"i":313,"j":153,"s":0.5},{"i":317,"j":107,"s":0.5},{"i":318,"j":106,"s":0.6},{"i":24,"j":62,"s":0.8},{"i":25,"j":58,"s":0.3},{"i":26,"j":62,"s":0.9},{"i":58,"j":26,"s":0.4},{"i":59,"j":26,"s":0.5},{"i":58,"j":23,"s":0.3},{"i":104,"j":316,"s":0.5},{"i":106,"j":316,"s":0.6},{"i":106,"j":321,"s":0.4},{"i":107,"j":322,"s":0.7},{"i":241,"j":293,"s":0.3},{"i":294,"j":308,"s":0.7},{"i":297,"j":307,"s":0.55}
]},"mark":{"type":"circle","size":360,"opacity":1},"encoding":{"x":{"field":"i","type":"quantitative","scale":{"domain":[-12,344],"nice":false,"zero":false},"axis":{"title":"residue index","values":[0,50,100,150,200,250,300],"grid":false,"domain":false,"ticks":true,"tickSize":8,"tickWidth":4,"tickColor":"black","labelFont":"Liberation Sans","labelFontWeight":"bold","labelFontSize":59,"labelColor":"black","labelPadding":2,"labelFlush":false,"titleFont":"Liberation Sans","titleFontWeight":"bold","titleFontSize":60,"titleColor":"black","titlePadding":12}},"y":{"field":"j","type":"quantitative","scale":{"domain":[-12,344],"nice":false,"zero":false},"axis":{"title":"residue index","values":[0,50,100,150,200,250,300],"grid":false,"domain":false,"ticks":true,"tickSize":8,"tickWidth":4,"tickColor":"black","labelFont":"Liberation Sans","labelFontWeight":"bold","labelFontSize":59,"labelColor":"black","labelAngle":-90,"labelAlign":"center","labelBaseline":"bottom","labelPadding":26,"labelFlush":false,"titleFont":"Liberation Sans","titleFontWeight":"bold","titleFontSize":60,"titleColor":"black","titlePadding":16}},"color":{"field":"s","type":"quantitative","scale":{"domain":[0,1],"range":["#0a0a0a","#808080"]},"legend":null}}}
